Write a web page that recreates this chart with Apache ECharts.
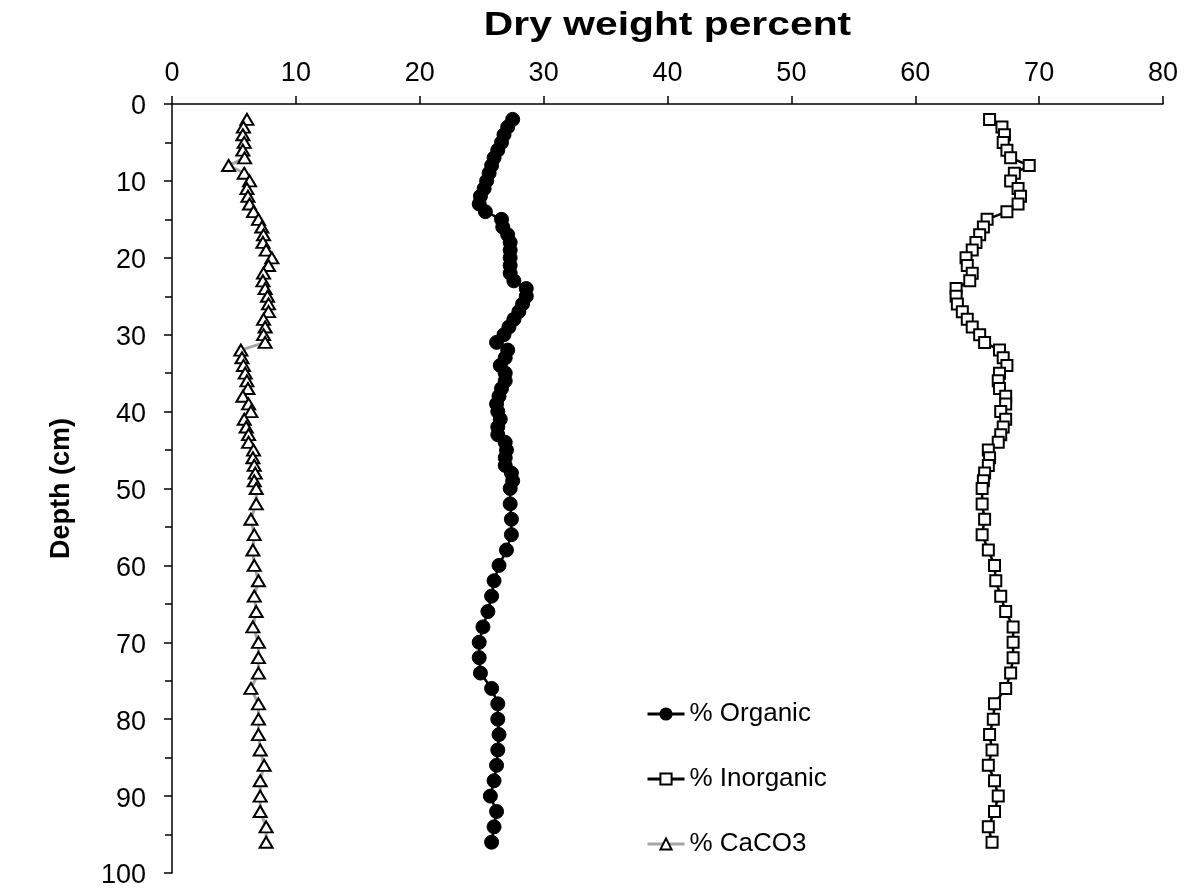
<!DOCTYPE html>
<html>
<head>
<meta charset="utf-8">
<script src="https://cdn.jsdelivr.net/npm/echarts@6/dist/echarts.min.js"></script>
<style>
  html, body { margin: 0; padding: 0; background: #ffffff; }
  #chart { width: 1191px; height: 892px; }
</style>
</head>
<body>
<div id="chart"></div>
<script>
// Core depth profile: sample depths (cm) and dry weight percentages
const depths = [2,3,4,5,6,7,8,9,10,11,12,13,14,15,16,17,18,19,20,21,22,23,24,25,26,27,28,29,30,31,
  32,33,34,35,36,37,38,39,40,41,42,43,44,45,46,47,48,49,50,
  52,54,56,58,60,62,64,66,68,70,72,74,76,78,80,82,84,86,88,90,92,94,96];

const organic = [27.5,27.1,26.8,26.6,26.3,26.0,25.8,25.6,25.4,25.2,24.9,24.8,25.3,26.6,26.7,27.1,27.3,27.3,27.3,27.3,27.3,27.6,28.6,28.6,28.3,28.0,27.6,27.2,26.8,26.2,
  27.1,26.9,26.5,26.9,26.9,26.6,26.4,26.2,26.3,26.5,26.3,26.3,26.9,27.0,26.9,26.9,27.4,27.5,27.3,
  27.3,27.4,27.4,27.0,26.4,26.0,25.8,25.5,25.1,24.8,24.8,24.9,25.8,26.3,26.3,26.4,26.3,26.2,26.0,25.7,26.2,26.0,25.8];

const inorganic = [66.0,67.0,67.2,67.1,67.4,67.7,69.2,68.0,67.7,68.3,68.5,68.3,67.4,65.8,65.5,65.2,64.9,64.6,64.1,64.2,64.6,64.4,63.3,63.3,63.4,63.8,64.2,64.6,65.2,65.6,
  66.8,67.1,67.4,66.8,66.7,66.8,67.3,67.3,66.9,67.3,67.1,66.9,66.7,65.9,66.0,65.9,65.6,65.5,65.4,
  65.4,65.6,65.4,65.9,66.4,66.5,66.9,67.3,67.9,67.9,67.9,67.7,67.3,66.4,66.3,66.0,66.2,65.9,66.4,66.7,66.4,65.9,66.2];

const caco3 = [6.05,5.77,5.72,5.83,5.72,5.86,4.57,5.83,6.26,6.05,6.13,6.26,6.58,6.98,7.25,7.39,7.34,7.6,8.06,7.79,7.39,7.34,7.52,7.71,7.79,7.79,7.39,7.52,7.39,7.52,
  5.56,5.65,5.77,5.91,6.05,6.13,5.72,6.18,6.37,5.83,5.99,6.18,6.18,6.58,6.53,6.64,6.72,6.64,6.8,
  6.8,6.37,6.64,6.53,6.64,6.98,6.64,6.8,6.53,6.98,6.98,6.98,6.37,6.98,6.98,6.98,7.12,7.44,7.12,7.12,7.12,7.6,7.6];

const seriesNames = ['% Organic', '% Inorganic', '% CaCO3'];
const xAxisTitle = 'Dry weight percent';
const yAxisTitle = 'Depth (cm)';

const FONT = '"Liberation Sans", Arial, sans-serif';

function pairs(values) {
  return values.map((v, i) => [v, depths[i]]);
}

const chart = echarts.init(document.getElementById('chart'), null, { renderer: 'canvas' });

const axisLineStyle = { color: '#000000', width: 1.5 };
const GRID = { left: 172, top: 104, width: 991, height: 769 };

chart.setOption({
  backgroundColor: '#ffffff',
  animation: false,
  grid: Object.assign({ containLabel: false }, GRID),
  // wide bold heading centred over the plot area
  graphic: [{
    type: 'text',
    x: GRID.left + GRID.width / 2,
    y: 26,
    scaleX: 1.2,
    scaleY: 1,
    silent: true,
    style: {
      text: xAxisTitle,
      fill: '#000000',
      font: 'bold 34px ' + FONT,
      textAlign: 'center',
      textVerticalAlign: 'middle'
    }
  }],
  xAxis: {
    type: 'value',
    position: 'top',
    min: 0, max: 80, interval: 10,
    axisLine: { show: true, onZero: false, lineStyle: axisLineStyle },
    axisTick: { show: true, inside: false, length: 8, lineStyle: axisLineStyle },
    axisLabel: { fontFamily: FONT, fontSize: 27, color: '#000000', margin: 17 },
    splitLine: { show: false }
  },
  yAxis: {
    type: 'value',
    inverse: true,
    min: 0, max: 100, interval: 10,
    name: yAxisTitle,
    nameLocation: 'middle',
    nameGap: 97,
    nameRotate: 90,
    nameTextStyle: { fontFamily: FONT, fontWeight: 'bold', fontSize: 27, color: '#000000' },
    axisLine: { show: true, onZero: false, lineStyle: axisLineStyle },
    axisTick: { show: true, inside: false, length: 8, lineStyle: axisLineStyle },
    minorTick: { show: true, splitNumber: 2, length: 7, lineStyle: axisLineStyle },
    axisLabel: {
      fontFamily: FONT, fontSize: 27, color: '#000000', margin: 26,
      formatter: '{v|{value}}',
      rich: { v: { fontFamily: FONT, fontSize: 27, color: '#000000', padding: [6, 0, 0, 0] } }
    },
    splitLine: { show: false },
    minorSplitLine: { show: false }
  },
  legend: {
    orient: 'vertical',
    left: 646,
    top: 701,
    padding: 0,
    itemWidth: 37,
    itemHeight: 14,
    itemGap: 39,
    lineStyle: { width: 3 },
    textStyle: { fontFamily: FONT, fontSize: 26, color: '#000000', lineHeight: 24 },
    data: seriesNames
  },
  series: [
    {
      name: seriesNames[0],
      type: 'line',
      data: pairs(organic),
      symbol: 'circle',
      symbolSize: 14,
      lineStyle: { color: '#000000', width: 2.5 },
      itemStyle: { color: '#000000', borderColor: '#000000', borderWidth: 1 },
      clip: false,
      z: 3
    },
    {
      name: seriesNames[1],
      type: 'line',
      data: pairs(inorganic),
      symbol: 'rect',
      symbolSize: 11,
      lineStyle: { color: '#000000', width: 2.5 },
      itemStyle: { color: '#ffffff', borderColor: '#000000', borderWidth: 2 },
      clip: false,
      z: 3
    },
    {
      name: seriesNames[2],
      type: 'line',
      data: pairs(caco3),
      symbol: 'triangle',
      symbolSize: [13, 11],
      lineStyle: { color: '#a6a6a6', width: 3 },
      itemStyle: { color: '#ffffff', borderColor: '#000000', borderWidth: 2 },
      clip: false,
      z: 3
    }
  ]
});
</script>
</body>
</html>
